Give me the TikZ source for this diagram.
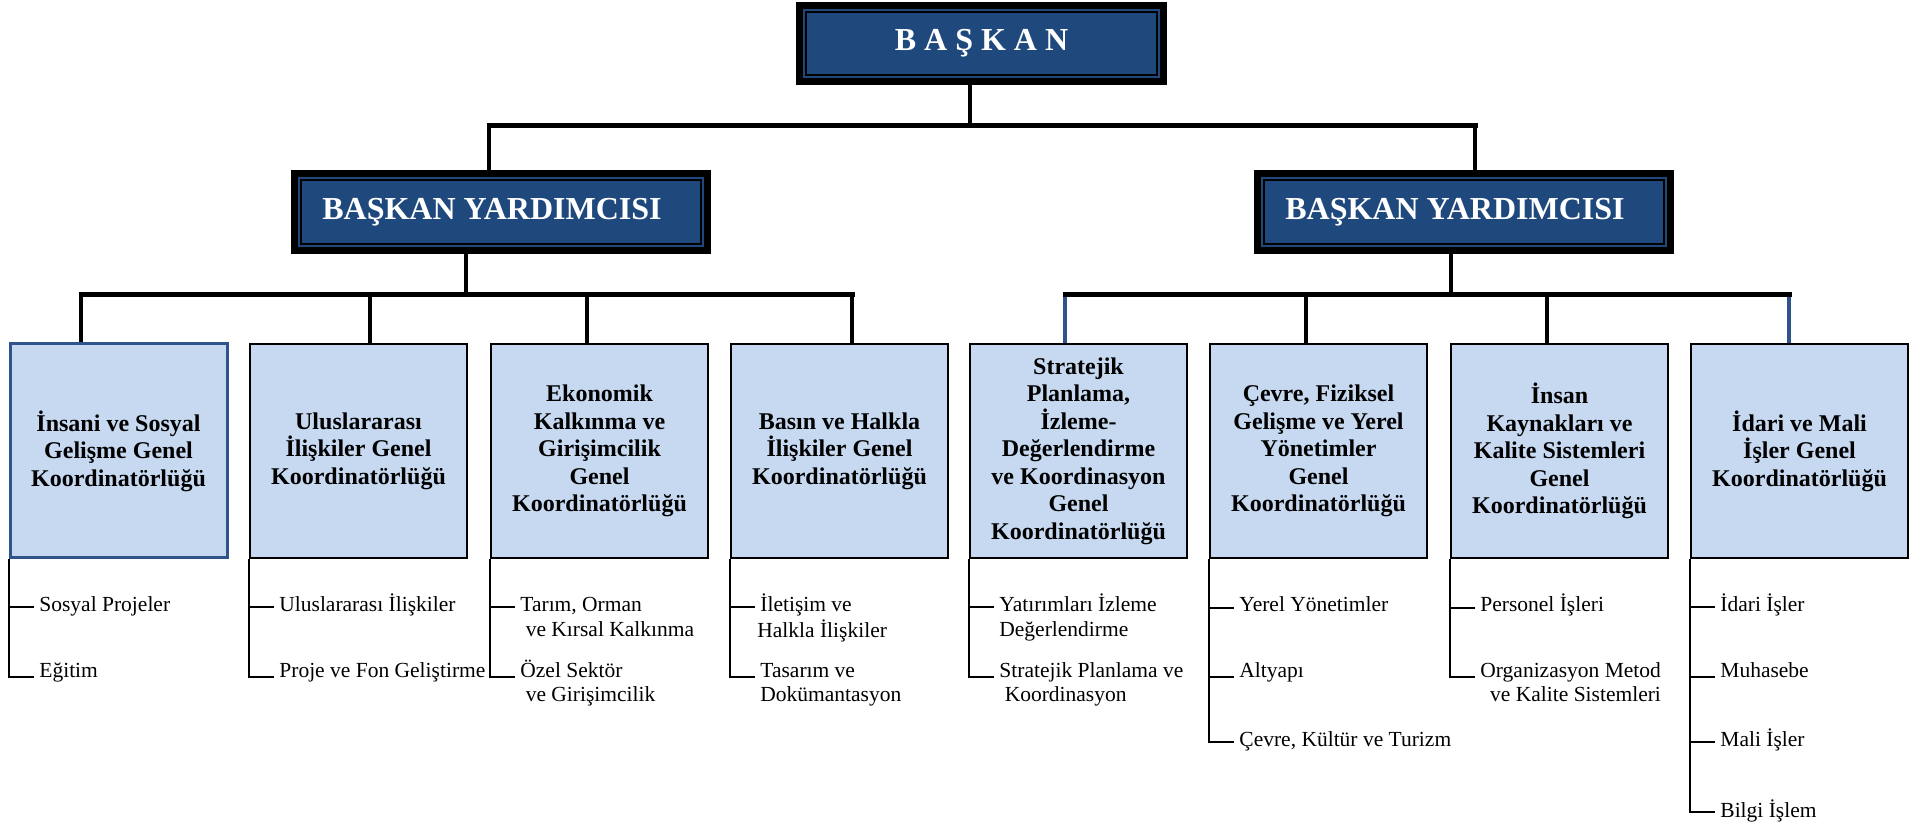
\documentclass[tikz,border=0pt]{standalone}
\usepackage{fontspec}
\setmainfont{Liberation Serif}
\definecolor{chiefblue}{RGB}{31,73,125}
\definecolor{boxfill}{RGB}{198,217,241}
\definecolor{edgeblue}{RGB}{47,84,140}
\newcommand\twolines[2]{\begin{tabular}[t]{@{}l@{}}#1\\#2\end{tabular}}
\newcommand\twolinesr[2]{\begin{tabular}[t]{@{}r@{}}#1\\#2\end{tabular}}
\begin{document}
\begin{tikzpicture}[x=0.5pt,y=-0.5pt,
  chief/.style={rectangle, fill=black, inner sep=0pt, text=white,
    font=\fontsize{16}{19}\selectfont\bfseries,
    path picture={
      \fill[chiefblue] ([shift={(3.5pt,3.5pt)}]path picture bounding box.south west) rectangle ([shift={(-3.5pt,-3.5pt)}]path picture bounding box.north east);
      \draw[black,line width=1pt] ([shift={(5pt,5pt)}]path picture bounding box.south west) rectangle ([shift={(-5pt,-5pt)}]path picture bounding box.north east);
    }},
  unit/.style={rectangle, draw=black, line width=1pt, fill=boxfill,
    minimum width=108.5pt, minimum height=107pt, inner sep=2pt, align=center,
    font=\fontsize{12}{13.75}\selectfont\bfseries},
  firstunit/.style={unit, draw=edgeblue, line width=1.5pt},
  bus/.style={line width=2.5pt, line cap=rect},
  drop/.style={line width=2.4pt},
  bluedrop/.style={line width=2.4pt, draw=edgeblue},
  branch/.style={line width=1pt},
  item/.style={anchor=base west, inner sep=0pt, font=\fontsize{10.75}{12.5}\selectfont}
]
\useasboundingbox (0,0) rectangle (1912,833);

% top level
\node[chief, minimum width=185.5pt, minimum height=41.5pt] (baskan) at (981.5,43.5) {B A Ş K A N};
\node[chief, minimum width=210pt, minimum height=42pt] (vp1) at (501,212) {BAŞKAN YARDIMCISI\hspace*{9pt}};
\node[chief, minimum width=210pt, minimum height=42pt] (vp2) at (1464,212) {BAŞKAN YARDIMCISI\hspace*{9pt}};

% junctions
\coordinate (j0) at (970,126);
\coordinate (jl) at (489,126);
\coordinate (jr) at (1475,126);
\coordinate (kl) at (466,295);
\coordinate (kr) at (1451,295);
\coordinate (d0) at (81,295);
\coordinate (d1) at (370,295);
\coordinate (d2) at (587,295);
\coordinate (d3) at (852,295);
\coordinate (d4) at (1065,295);
\coordinate (d5) at (1306,295);
\coordinate (d6) at (1547,295);
\coordinate (d7) at (1789,295);

% units
\node[firstunit] (b0) at (118.5,451) {İnsani ve Sosyal\\Gelişme Genel\\Koordinatörlüğü};
\node[unit] (b1) at (358.5,451) {Uluslararası\\İlişkiler Genel\\Koordinatörlüğü};
\node[unit] (b2) at (599.5,451) {Ekonomik\\Kalkınma ve\\Girişimcilik\\Genel\\Koordinatörlüğü};
\node[unit] (b3) at (839.5,451) {Basın ve Halkla\\İlişkiler Genel\\Koordinatörlüğü};
\node[unit] (b4) at (1078.5,451) {Stratejik\\Planlama,\\İzleme-\\Değerlendirme\\ve Koordinasyon\\Genel\\Koordinatörlüğü};
\node[unit] (b5) at (1318.5,451) {Çevre, Fiziksel\\Gelişme ve Yerel\\Yönetimler\\Genel\\Koordinatörlüğü};
\node[unit] (b6) at (1559.5,451) {İnsan\\Kaynakları ve\\Kalite Sistemleri\\Genel\\Koordinatörlüğü};
\node[unit] (b7) at (1799.5,451) {İdari ve Mali\\İşler Genel\\Koordinatörlüğü};

% connectors top
\draw[drop] (baskan.south -| j0) -- (j0);
\draw[drop] (jl) -- (vp1.north -| jl);
\draw[drop] (jr) -- (vp2.north -| jr);
\draw[bus] (jl) -- (jr);
\draw[drop] (vp1.south -| kl) -- (kl);
\draw[drop] (vp2.south -| kr) -- (kr);
\draw[drop] (d0) -- (b0.north -| d0);
\draw[drop] (d1) -- (b1.north -| d1);
\draw[drop] (d2) -- (b2.north -| d2);
\draw[drop] (d3) -- (b3.north -| d3);
\draw[bluedrop] ([yshift=-1pt]d4) -- (b4.north -| d4);
\draw[drop] (d5) -- (b5.north -| d5);
\draw[drop] (d6) -- (b6.north -| d6);
\draw[bluedrop] ([yshift=-1pt]d7) -- (b7.north -| d7);
\draw[bus] (d0) -- (d3);
\draw[bus] (d4) -- (d7);

% items
\node[item] (i00) at (39,612) {Sosyal Projeler};
\node[item] (i01) at (39,677) {Eğitim};
\node[item] (i10) at (279,612) {Uluslararası İlişkiler};
\node[item] (i11) at (279,677) {Proje ve Fon Geliştirme};
\node[item] (i20) at (520,612) {\twolines{Tarım, Orman}{\ ve Kırsal Kalkınma}};
\node[item] (i21) at (520,677) {\twolines{Özel Sektör}{\ ve Girişimcilik}};
\node[item] (i30) at (760,612) {\twolines{İletişim ve}{\hspace*{-1.5pt}Halkla İlişkiler}};
\node[item] (i31) at (760,677) {\twolines{Tasarım ve}{Dokümantasyon}};
\node[item] (i40) at (999,612) {\twolines{Yatırımları İzleme}{Değerlendirme}};
\node[item] (i41) at (999,677) {\twolines{Stratejik Planlama ve}{\ Koordinasyon}};
\node[item] (i50) at (1239,612) {Yerel Yönetimler};
\node[item] (i51) at (1239,677) {Altyapı};
\node[item] (i52) at (1239,747) {Çevre, Kültür ve Turizm};
\node[item] (i60) at (1480,612) {Personel İşleri};
\node[item] (i61) at (1480,677) {\twolinesr{Organizasyon Metod}{ve Kalite Sistemleri}};
\node[item] (i70) at (1720,612) {İdari İşler};
\node[item] (i71) at (1720,677) {Muhasebe};
\node[item] (i72) at (1720,747) {Mali İşler};
\node[item] (i73) at (1720,817) {Bilgi İşlem};

% tick points
\coordinate (t00) at ([shift={(-2.5pt,2.5pt)}]i00.base west);
\coordinate (t01) at ([shift={(-2.5pt,0pt)}]i01.base west);
\coordinate (t10) at ([shift={(-2.5pt,2.5pt)}]i10.base west);
\coordinate (t11) at ([shift={(-2.5pt,0pt)}]i11.base west);
\coordinate (t20) at ([shift={(-2.5pt,2.5pt)}]i20.base west);
\coordinate (t21) at ([shift={(-2.5pt,0pt)}]i21.base west);
\coordinate (t30) at ([shift={(-2.5pt,2.5pt)}]i30.base west);
\coordinate (t31) at ([shift={(-2.5pt,0pt)}]i31.base west);
\coordinate (t40) at ([shift={(-2.5pt,2.5pt)}]i40.base west);
\coordinate (t41) at ([shift={(-2.5pt,0pt)}]i41.base west);
\coordinate (t50) at ([shift={(-2.5pt,2pt)}]i50.base west);
\coordinate (t51) at ([shift={(-2.5pt,0pt)}]i51.base west);
\coordinate (t52) at ([shift={(-2.5pt,2.5pt)}]i52.base west);
\coordinate (t60) at ([shift={(-2.5pt,2pt)}]i60.base west);
\coordinate (t61) at ([shift={(-2.5pt,0pt)}]i61.base west);
\coordinate (t70) at ([shift={(-2.5pt,2.5pt)}]i70.base west);
\coordinate (t71) at ([shift={(-2.5pt,0pt)}]i71.base west);
\coordinate (t72) at ([shift={(-2.5pt,2.5pt)}]i72.base west);
\coordinate (t73) at ([shift={(-2.5pt,2.5pt)}]i73.base west);

% branch trees
\draw[branch] (b0.south west) |- (t01);
\draw[branch] (b0.south west |- t00) -- (t00);
\draw[branch] (b1.south west) |- (t11);
\draw[branch] (b1.south west |- t10) -- (t10);
\draw[branch] (b2.south west) |- (t21);
\draw[branch] (b2.south west |- t20) -- (t20);
\draw[branch] (b3.south west) |- (t31);
\draw[branch] (b3.south west |- t30) -- (t30);
\draw[branch] (b4.south west) |- (t41);
\draw[branch] (b4.south west |- t40) -- (t40);
\draw[branch] (b5.south west) |- (t52);
\draw[branch] (b5.south west |- t50) -- (t50);
\draw[branch] (b5.south west |- t51) -- (t51);
\draw[branch] (b6.south west) |- (t61);
\draw[branch] (b6.south west |- t60) -- (t60);
\draw[branch] (b7.south west) |- (t73);
\draw[branch] (b7.south west |- t70) -- (t70);
\draw[branch] (b7.south west |- t71) -- (t71);
\draw[branch] (b7.south west |- t72) -- (t72);
\end{tikzpicture}
\end{document}
